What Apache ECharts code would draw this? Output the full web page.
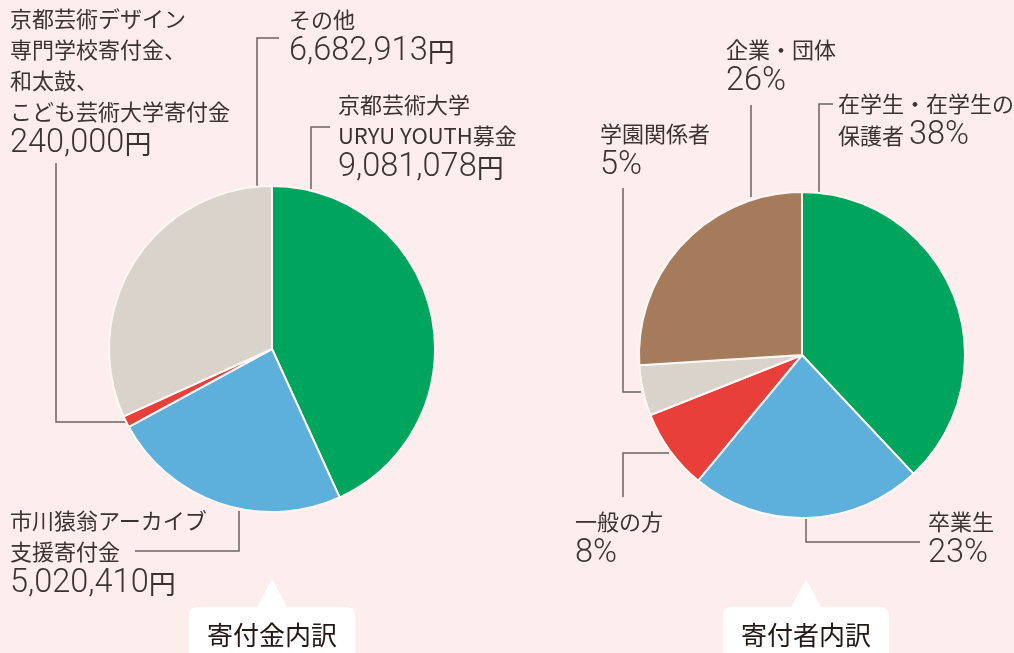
<!DOCTYPE html>
<html>
<head>
<meta charset="utf-8">
<script src="https://cdn.jsdelivr.net/npm/echarts@6/dist/echarts.min.js"></script>
<style>
  html, body { margin: 0; padding: 0; background: #fdeeed; }
  #main { width: 1014px; height: 653px; }
</style>
</head>
<body>
<div id="main"></div>
<script>
// 寄付金内訳
var fundNames = ['京都芸術大学\nURYU YOUTH募金', '市川猿翁アーカイブ\n支援寄付金', '京都芸術デザイン\n専門学校寄付金、\n和太鼓、\nこども芸術大学寄付金', 'その他'];
var fundValues = [9081078, 5020410, 240000, 6682913];
var fundColors = ['#00a55d', '#5db0dc', '#e83f3b', '#d9d3cc'];

// 寄付者内訳 (%)
var donorNames = ['在学生・在学生の\n保護者', '卒業生', '一般の方', '学園関係者', '企業・団体'];
var donorValues = [38, 23, 8, 5, 26];
var donorColors = ['#00a55d', '#5db0dc', '#e83f3b', '#d9d3cc', '#a67b5b'];

var tabTitles = ['寄付金内訳', '寄付者内訳'];

// ラベルの位置と引き出し線
var fundLabelPos = [
  { x: 338, y: 89, pts: [[311, 189], [311, 127], [330, 127]] },
  { x: 10, y: 505, pts: [[239, 511], [239, 551], [135, 551]] },
  { x: 10, y: 3, pts: [[126, 422], [56, 422], [56, 163]] },
  { x: 289, y: 4, pts: [[257, 187], [257, 38], [279, 38]] }
];
var donorLabelPos = [
  { x: 838, y: 88, inline: true, pts: [[819, 194], [819, 104], [833, 104]] },
  { x: 928, y: 506, pts: [[806, 517], [806, 542], [920, 542]] },
  { x: 575, y: 506, pts: [[669, 453], [623, 453], [623, 497]] },
  { x: 600, y: 118, pts: [[641, 392], [623, 392], [623, 188]] },
  { x: 726, y: 34, pts: [[751, 197], [751, 150], [751, 105]] }
];

var textColor = '#3b3330';
var richStyle = {
  s: { fontSize: 22, lineHeight: 31, fontFamily: '"Noto Sans CJK JP"', color: textColor },
  n: { fontSize: 32.5, lineHeight: 34, fontFamily: 'Roboto', fontWeight: 300, color: textColor },
  y: { fontSize: 27, lineHeight: 34, fontFamily: '"Noto Sans CJK JP"', color: textColor }
};

function fundLabel(p) {
  var lines = p.name.split('\n').map(function (t) { return '{s|' + t + '}'; });
  return lines.join('\n') + '\n{n|' + p.value.toLocaleString('en-US') + '}{y|円}';
}

function donorLabel(p) {
  var lines = p.name.split('\n').map(function (t) { return '{s|' + t + '}'; });
  var pct = '{n|' + p.value + '%}';
  if (donorLabelPos[p.dataIndex].inline) {
    lines[lines.length - 1] = '{s|' + p.name.split('\n').pop() + ' }' + pct;
    return lines.join('\n');
  }
  return lines.join('\n') + '\n' + pct;
}

function makeData(names, values, colors) {
  return values.map(function (v, i) {
    return { name: names[i], value: v, itemStyle: { color: colors[i] } };
  });
}

function pieSeries(center, data, formatter, pos) {
  return {
    type: 'pie',
    center: center,
    radius: 163,
    startAngle: 90,
    clockwise: true,
    silent: true,
    avoidLabelOverlap: false,
    data: data,
    itemStyle: { borderColor: '#fff7f6', borderWidth: 2 },
    label: {
      show: true,
      position: 'outside',
      width: 400,
      align: 'left',
      formatter: formatter,
      rich: richStyle
    },
    labelLine: {
      show: true,
      smooth: false,
      lineStyle: { color: '#6b6461', width: 1.5 }
    },
    labelLayout: function (p) {
      var L = pos[p.dataIndex];
      return { x: L.x, y: L.y, align: 'left', verticalAlign: 'top', labelLinePoints: L.pts };
    },
    emphasis: { disabled: true }
  };
}

function tab(cx, title) {
  return {
    type: 'group',
    children: [
      { type: 'polygon', shape: { points: [[cx - 16, 609], [cx, 579], [cx + 16, 609]] }, style: { fill: '#ffffff' } },
      { type: 'rect', shape: { x: cx - 83, y: 607, width: 166, height: 60, r: [8, 8, 0, 0] }, style: { fill: '#ffffff' } },
      { type: 'text', x: cx, y: 635, style: { text: title, fill: '#231815', font: '26px "Noto Sans CJK JP"', align: 'center', verticalAlign: 'middle', textAlign: 'center', textVerticalAlign: 'middle' } }
    ]
  };
}

var myChart = echarts.init(document.getElementById('main'));
var option = {
  backgroundColor: '#fdeeed',
  animation: false,
  series: [
    pieSeries([272, 349], makeData(fundNames, fundValues, fundColors), fundLabel, fundLabelPos),
    pieSeries([802, 355], makeData(donorNames, donorValues, donorColors), donorLabel, donorLabelPos)
  ],
  graphic: [tab(272, tabTitles[0]), tab(806, tabTitles[1])]
};
myChart.setOption(option);
</script>
</body>
</html>
